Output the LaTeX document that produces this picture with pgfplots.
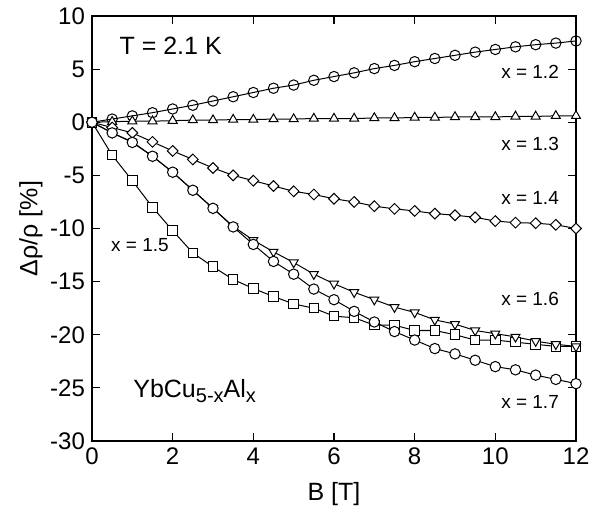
\documentclass[border=0pt]{standalone}
\usepackage{pgfplots}
\pgfplotsset{compat=1.18}
\usepackage{fontspec}
\setmainfont{Liberation Sans}

\begin{document}
\begin{tikzpicture}
\begin{axis}[
  scale only axis, width=242pt, height=212.5pt,
  xmin=0, xmax=12, ymin=-30, ymax=10,
  xtick={0,2,...,12}, ytick={-30,-25,...,10},
  tick align=inside, major tick length=4pt,
  axis line style={line width=1pt},
  tick style={line width=0.6pt, black},
  /pgf/number format/assume math mode=true,
  ticklabel style={font=\fontsize{12}{14}\selectfont},
  xlabel={B [T]}, ylabel={Δρ/ρ [\%]},
  xlabel style={font=\fontsize{12.5}{14}\selectfont, yshift=-2pt},
  ylabel style={font=\fontsize{12.5}{14}\selectfont, yshift=-3pt},
  clip=false,
  every axis plot/.append style={black, solid, line width=0.5pt, mark size=2.6pt},
]
% x = 1.2
\addplot[mark=o, mark options={fill=white, solid}] coordinates {
(0,0) (0.5,0.3) (1,0.6) (1.5,0.9) (2,1.25) (2.5,1.6) (3,2.0) (3.5,2.4) (4,2.8)
(4.5,3.2) (5,3.5) (5.5,3.95) (6,4.3) (6.5,4.65) (7,5.05) (7.5,5.35) (8,5.7)
(8.5,6.0) (9,6.3) (9.5,6.6) (10,6.85) (10.5,7.1) (11,7.3) (11.5,7.45) (12,7.65)};
% x = 1.3
\addplot[mark=triangle*, mark options={fill=white, solid}] coordinates {
(0,0) (0.5,0.05) (1,0.1) (1.5,0.1) (2,0.15) (2.5,0.2) (3,0.2) (3.5,0.25) (4,0.25)
(4.5,0.3) (5,0.3) (5.5,0.35) (6,0.35) (6.5,0.35) (7,0.4) (7.5,0.4) (8,0.45)
(8.5,0.45) (9,0.5) (9.5,0.5) (10,0.5) (10.5,0.55) (11,0.55) (11.5,0.6) (12,0.6)};
% x = 1.4
\addplot[mark=square*, mark size=1.9pt, mark options={fill=white, solid, rotate=45}] coordinates {
(0,0) (0.5,-0.5) (1,-1.0) (1.5,-1.85) (2,-2.7) (2.5,-3.5) (3,-4.3) (3.5,-5.0) (4,-5.5)
(4.5,-6.0) (5,-6.5) (5.5,-6.8) (6,-7.2) (6.5,-7.5) (7,-7.9) (7.5,-8.15) (8,-8.35)
(8.5,-8.6) (9,-8.75) (9.5,-8.95) (10,-9.3) (10.5,-9.45) (11,-9.5) (11.5,-9.65) (12,-10.0)};
% x = 1.5
\addplot[mark=square*, mark size=2.4pt, mark options={fill=white, solid}] coordinates {
(0,0) (0.5,-3.1) (1,-5.5) (1.5,-8.0) (2,-10.2) (2.5,-12.3) (3,-13.6) (3.5,-14.8) (4,-15.65)
(4.5,-16.4) (5,-17.1) (5.5,-17.5) (6,-18.25) (6.5,-18.4) (7,-19.1) (7.5,-19.1) (8,-19.6)
(8.5,-19.6) (9,-20.0) (9.5,-20.5) (10,-20.5) (10.5,-20.7) (11,-20.9) (11.5,-21.1) (12,-21.1)};
% x = 1.6
\addplot[mark=triangle*, mark options={fill=white, solid, rotate=180}] coordinates {
(0,0) (0.5,-1.0) (1,-1.85) (1.5,-3.2) (2,-4.7) (2.5,-6.4) (3,-8.1) (3.5,-9.8) (4,-11.1)
(4.5,-12.2) (5,-13.2) (5.5,-14.3) (6,-15.2) (6.5,-16.0) (7,-16.7) (7.5,-17.4) (8,-17.9)
(8.5,-18.6) (9,-19.0) (9.5,-19.6) (10,-19.9) (10.5,-20.2) (11,-20.6) (11.5,-20.9) (12,-21.1)};
% x = 1.7
\addplot[mark=*, mark options={fill=white, solid}] coordinates {
(0,0) (0.5,-1.0) (1,-1.9) (1.5,-3.2) (2,-4.7) (2.5,-6.4) (3,-8.1) (3.5,-9.85) (4,-11.5)
(4.5,-13.1) (5,-14.3) (5.5,-15.7) (6,-16.7) (6.5,-17.8) (7,-18.8) (7.5,-19.7) (8,-20.5)
(8.5,-21.3) (9,-21.8) (9.5,-22.4) (10,-23.0) (10.5,-23.3) (11,-23.8) (11.5,-24.2) (12,-24.6)};

\node[font=\fontsize{12.5}{14}\selectfont] at (axis cs:1.95,7.2) {T = 2.1 K};
\begin{scope}[every node/.style={font=\fontsize{9.5}{10}\selectfont, anchor=east}]
\node at (axis cs:11.75,4.7) {x = 1.2};
\node at (axis cs:11.75,-2.0) {x = 1.3};
\node at (axis cs:11.75,-7.15) {x = 1.4};
\node at (axis cs:11.75,-16.6) {x = 1.6};
\node at (axis cs:11.75,-26.3) {x = 1.7};
\node[anchor=west] at (axis cs:0.3,-11.6) {x = 1.5};
\end{scope}
\node[font=\fontsize{12.5}{14}\selectfont, anchor=west] at (axis cs:0.85,-25.3) {YbCu\raisebox{-0.35ex}{\fontsize{10}{11}\selectfont 5-x}Al\raisebox{-0.35ex}{\fontsize{10}{11}\selectfont x}};
\end{axis}
\path (current axis.south west) ++(-46pt,-36.5pt) coordinate (bbsw);
\path (current axis.north east) ++(14.5pt,8pt) coordinate (bbne);
\path (bbsw) rectangle (bbne);
\end{tikzpicture}
\end{document}
